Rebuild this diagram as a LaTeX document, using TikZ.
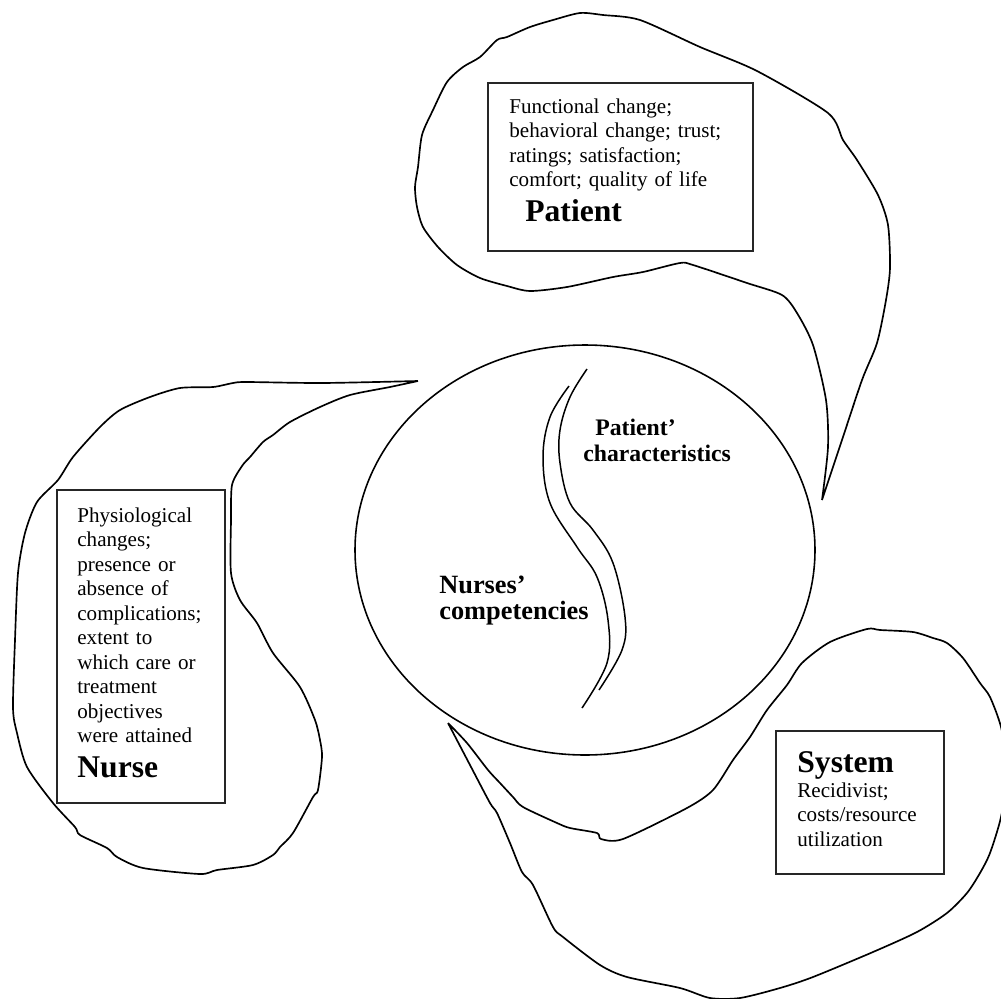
\documentclass[tikz,border=0pt]{standalone}
\usepackage{fontspec}
\setmainfont{Liberation Serif}

\begin{document}
\begin{tikzpicture}[x=0.02cm, y=-0.02cm,
  blob/.style={black, line width=0.95pt, line join=round},
  outbox/.style={draw=black!85, line width=0.9pt, inner sep=0pt},
  txt/.style={anchor=base west, inner sep=0pt, text width=6cm, align=left, font=\fontsize{12}{13.95}\selectfont},
  ttl/.style={anchor=base west, inner sep=0pt, font=\fontsize{18}{20}\selectfont\bfseries},
  core/.style={anchor=base west, inner sep=0pt, text width=4cm, align=left}]

\useasboundingbox (0,0) rectangle (1001,998);

\draw[line width=0.9pt] (585,550) ellipse [x radius=230, y radius=205];
\draw[line width=0.85pt] plot[smooth, tension=.6] coordinates {(587,369) (570,397) (560,430) (560,463) (570,503) (593,530) (613,563) (625,617) (622,650) (599,690)};
\draw[line width=0.85pt] plot[smooth, tension=.6] coordinates {(569,386) (550,417) (543,457) (550,503) (577,547) (597,577) (608,620) (607,663) (582,708)};

\draw[blob] plot[smooth, tension=.45] coordinates {(822,500) (842,440) (862,380) (877,343) (886,300) (890,268) (888,225) (878,195) (857,160) (843,140) (828,113) (757,71) (700,47) (640,20) (603,15) (580,13) (553,20) (530,27) (507,37) (497,40) (480,57) (463,67) (447,82) (433,110) (422,135) (418,167) (415,187) (417,207) (423,227) (438,247) (457,265) (480,278) (507,286) (530,291) (567,287) (613,277) (643,272) (680,263) (693,265) (747,283) (782,295) (797,313) (813,345) (826,400) (828,447) (822,500)};

\draw[blob] plot[smooth, tension=.45] coordinates {(418,381) (322,383) (247,382) (233,383) (213,387) (180,388) (150,397) (120,410) (100,427) (73,457) (58,480) (37,502) (25,533) (18,573) (15,640) (13,708) (17,733) (27,767) (53,803) (75,827) (80,835) (107,848) (117,857) (143,868) (200,874) (217,870) (253,865) (273,855) (280,847) (293,833) (313,797) (318,790) (322,757) (320,740) (315,720) (300,687) (273,653) (257,623) (240,600) (231,573) (231,520) (232,485) (242,466) (250,457) (263,442) (273,435) (290,422) (320,407) (350,395) (390,387) (418,381)};

\draw[blob] plot[smooth, tension=.45] coordinates {(448,723) (470,765) (490,803) (497,813) (510,843) (522,872) (533,885) (553,927) (563,937) (600,965) (627,977) (680,988) (710,998) (740,998) (780,988) (813,977) (873,952) (917,932) (947,913) (967,893) (980,873) (990,853) (1001,817) (1008,770) (1001,727) (990,697) (980,683) (963,658) (947,643) (933,638) (913,632) (880,630) (867,629) (830,642) (802,663) (787,685) (767,710) (750,737) (733,760) (713,790) (687,808) (623,839) (601,839) (597,833) (570,828) (557,823) (523,807) (513,797) (500,783) (488,770) (467,743) (448,723)};

\node[outbox, minimum width=5.3cm, minimum height=3.36cm] (patbox) at (620.5,167) {};
\node[outbox, minimum width=3.36cm, minimum height=6.26cm] (nurbox) at (141,646.5) {};
\node[outbox, minimum width=3.36cm, minimum height=2.86cm] (sysbox) at (860,802.5) {};

\node[txt] (pattxt) at (509,113) {Functional change;\\ behavioral change; trust;\\ ratings; satisfaction;\\ comfort; quality of life};
\node[ttl] (patttl) at (525,221) {Patient};
\node[txt] (nurtxt) at (77,522) {Physiological\\ changes;\\ presence or\\ absence of\\ complications;\\ extent to\\ which care or\\ treatment\\ objectives\\ were attained};
\node[ttl] (nurttl) at (77,777) {Nurse};
\node[ttl] (systtl) at (797,772) {System};
\node[txt] (systxt) at (797,797) {Recidivist;\\ costs/resource\\ utilization};

\node[core, font=\fontsize{13.5}{15.3}\selectfont\bfseries] (patchar) at (583,435) {\hspace*{6.8pt}Patient’\\ characteristics};
\node[core, font=\fontsize{15}{15.3}\selectfont\bfseries] (nurcomp) at (439,593) {Nurses’\\ competencies};
\end{tikzpicture}
\end{document}
